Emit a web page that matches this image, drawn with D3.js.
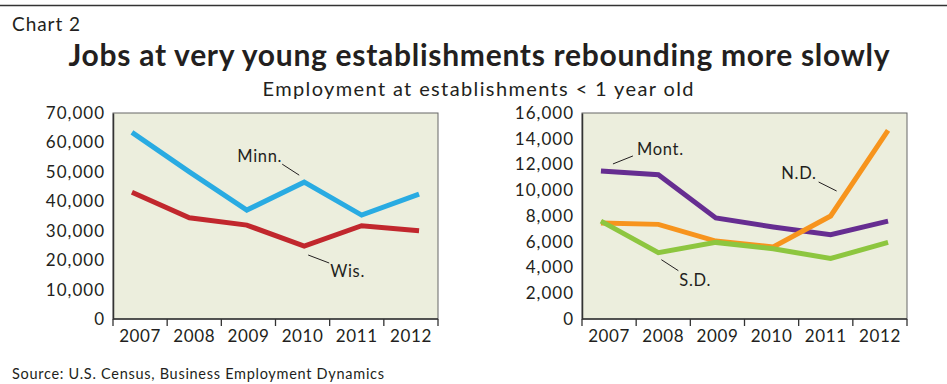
<!DOCTYPE html>
<html>
<head>
<meta charset="utf-8">
<script src="https://cdn.jsdelivr.net/npm/d3@7"></script>
<style>
  html, body { margin: 0; padding: 0; background: #fff; }
  svg { display: block; }
  text { font-family: Lato, "Noto Sans", sans-serif; fill: #231f20; }
</style>
</head>
<body>
<svg id="chart" width="947" height="384"></svg>
<script>
// Employment at establishments less than one year old
const years = ["2007", "2008", "2009", "2010", "2011", "2012"];

const minn = [63400, 50000, 37000, 46500, 35300, 42400];
const wis  = [43100, 34400, 31900, 24800, 31700, 30000];

const mont = [11500, 11200, 7850, 7150, 6550, 7600];
const nd   = [7450, 7350, 6050, 5600, 8000, 14650];
const sd   = [7600, 5150, 5950, 5450, 4700, 5950];

const leftTicks  = [0, 10000, 20000, 30000, 40000, 50000, 60000, 70000];
const rightTicks = [0, 2000, 4000, 6000, 8000, 10000, 12000, 14000, 16000];

const FONT = "Lato, 'Noto Sans', sans-serif";
const svg = d3.select("#chart");

// header rule and titles
svg.append("line")
  .attr("x1", 0).attr("x2", 947).attr("y1", 5.5).attr("y2", 5.5)
  .attr("stroke", "#333").attr("stroke-width", 1.5);

svg.append("text").attr("x", 12).attr("y", 31)
  .attr("font-size", 19)
  .attr("textLength", 68).attr("lengthAdjust", "spacing")
  .text("Chart 2");

svg.append("text").attr("x", 479).attr("y", 66)
  .attr("text-anchor", "middle").attr("font-size", 30).attr("font-weight", "bold")
  .attr("textLength", 821).attr("lengthAdjust", "spacing")
  .text("Jobs at very young establishments rebounding more slowly");

svg.append("text").attr("x", 478).attr("y", 96)
  .attr("text-anchor", "middle").attr("font-size", 20)
  .attr("textLength", 431).attr("lengthAdjust", "spacing")
  .text("Employment at establishments < 1 year old");

svg.append("text").attr("x", 12).attr("y", 379)
  .attr("font-size", 14.5)
  .attr("textLength", 372).attr("lengthAdjust", "spacing")
  .text("Source: U.S. Census, Business Employment Dynamics");

function panel(opts) {
  const { left, right, top, bottom, max, ticks, series, labels } = opts;
  const g = svg.append("g");

  const x = d3.scalePoint().domain(years).range([left, right]).padding(0.33);
  const xb = d3.scaleBand().domain(years).range([left, right]);
  const y = d3.scaleLinear().domain([0, max]).range([bottom, top]);

  // plot background with a light frame
  g.append("rect")
    .attr("x", left).attr("y", top)
    .attr("width", right - left).attr("height", bottom - top)
    .attr("fill", "#eceedd").attr("stroke", "#666").attr("stroke-width", 1);

  // y axis labels (no tick marks)
  const ya = g.append("g").attr("transform", `translate(${left},0)`)
    .call(d3.axisLeft(y).tickValues(ticks).tickSize(0).tickPadding(8)
      .tickFormat(d3.format(",")));
  ya.select(".domain").attr("stroke", "#333").attr("stroke-width", 1.5);
  ya.selectAll("text").attr("font-size", 17).attr("font-family", FONT)
    .attr("letter-spacing", 1).attr("fill", "#231f20");

  // x axis: year labels centred in bands, ticks at band edges
  const xa = g.append("g").attr("transform", `translate(0,${bottom})`)
    .call(d3.axisBottom(xb).tickSize(0).tickPadding(11));
  xa.select(".domain").remove();
  xa.selectAll("text").attr("font-size", 17).attr("font-family", FONT)
    .attr("letter-spacing", 0.6).attr("fill", "#231f20");
  const edges = years.map(d => xb(d)).concat([xb(years[years.length - 1]) + xb.bandwidth()]);
  g.append("g").selectAll("line").data(edges).join("line")
    .attr("x1", d => d).attr("x2", d => d)
    .attr("y1", bottom).attr("y2", bottom + 7)
    .attr("stroke", "#333").attr("stroke-width", 1.3);
  g.append("line")
    .attr("x1", left).attr("x2", right).attr("y1", bottom).attr("y2", bottom)
    .attr("stroke", "#333").attr("stroke-width", 1.5);

  const line = d3.line().x((d, i) => x(years[i])).y(d => y(d));
  series.forEach(s => {
    g.append("path").datum(s.values)
      .attr("d", line)
      .attr("fill", "none").attr("stroke", s.color)
      .attr("stroke-width", 5).attr("stroke-linejoin", "miter");
  });

  // series labels with short leader lines, placed relative to a data point
  labels.forEach(l => {
    const px = x(years[l.at]), py = y(l.v);
    g.append("line")
      .attr("x1", px + l.lx1).attr("y1", py + l.ly1)
      .attr("x2", px + l.lx2).attr("y2", py + l.ly2)
      .attr("stroke", "#231f20").attr("stroke-width", 1);
    g.append("text")
      .attr("x", px + l.tx).attr("y", py + l.ty)
      .attr("text-anchor", l.anchor).attr("font-size", 16.5)
      .attr("letter-spacing", 0.7)
      .text(l.text);
  });
}

panel({
  left: 113, right: 438, top: 113, bottom: 319, max: 70000, ticks: leftTicks,
  series: [
    { values: minn, color: "#29abe2" },
    { values: wis, color: "#c1272d" }
  ],
  labels: [
    { text: "Minn.", at: 3, v: minn[3], lx1: -22, ly1: -18, lx2: -5, ly2: -7, tx: -22, ty: -20, anchor: "end" },
    { text: "Wis.", at: 3, v: wis[3], lx1: 4, ly1: 9, lx2: 25, ly2: 17, tx: 26, ty: 31, anchor: "start" }
  ]
});

panel({
  left: 582, right: 907, top: 113, bottom: 319, max: 16000, ticks: rightTicks,
  series: [
    { values: mont, color: "#662d91" },
    { values: nd, color: "#f7941d" },
    { values: sd, color: "#8dc63f" }
  ],
  labels: [
    { text: "Mont.", at: 0, v: mont[0], lx1: 12, ly1: -7, lx2: 32, ly2: -15, tx: 36, ty: -16, anchor: "start" },
    { text: "N.D.", at: 4, v: nd[4], lx1: -12, ly1: -34, lx2: 6, ly2: -25, tx: -14, ty: -37, anchor: "end" },
    { text: "S.D.", at: 1, v: sd[1], lx1: 3, ly1: 7, lx2: 20, ly2: 18, tx: 21, ty: 33, anchor: "start" }
  ]
});
</script>
</body>
</html>
